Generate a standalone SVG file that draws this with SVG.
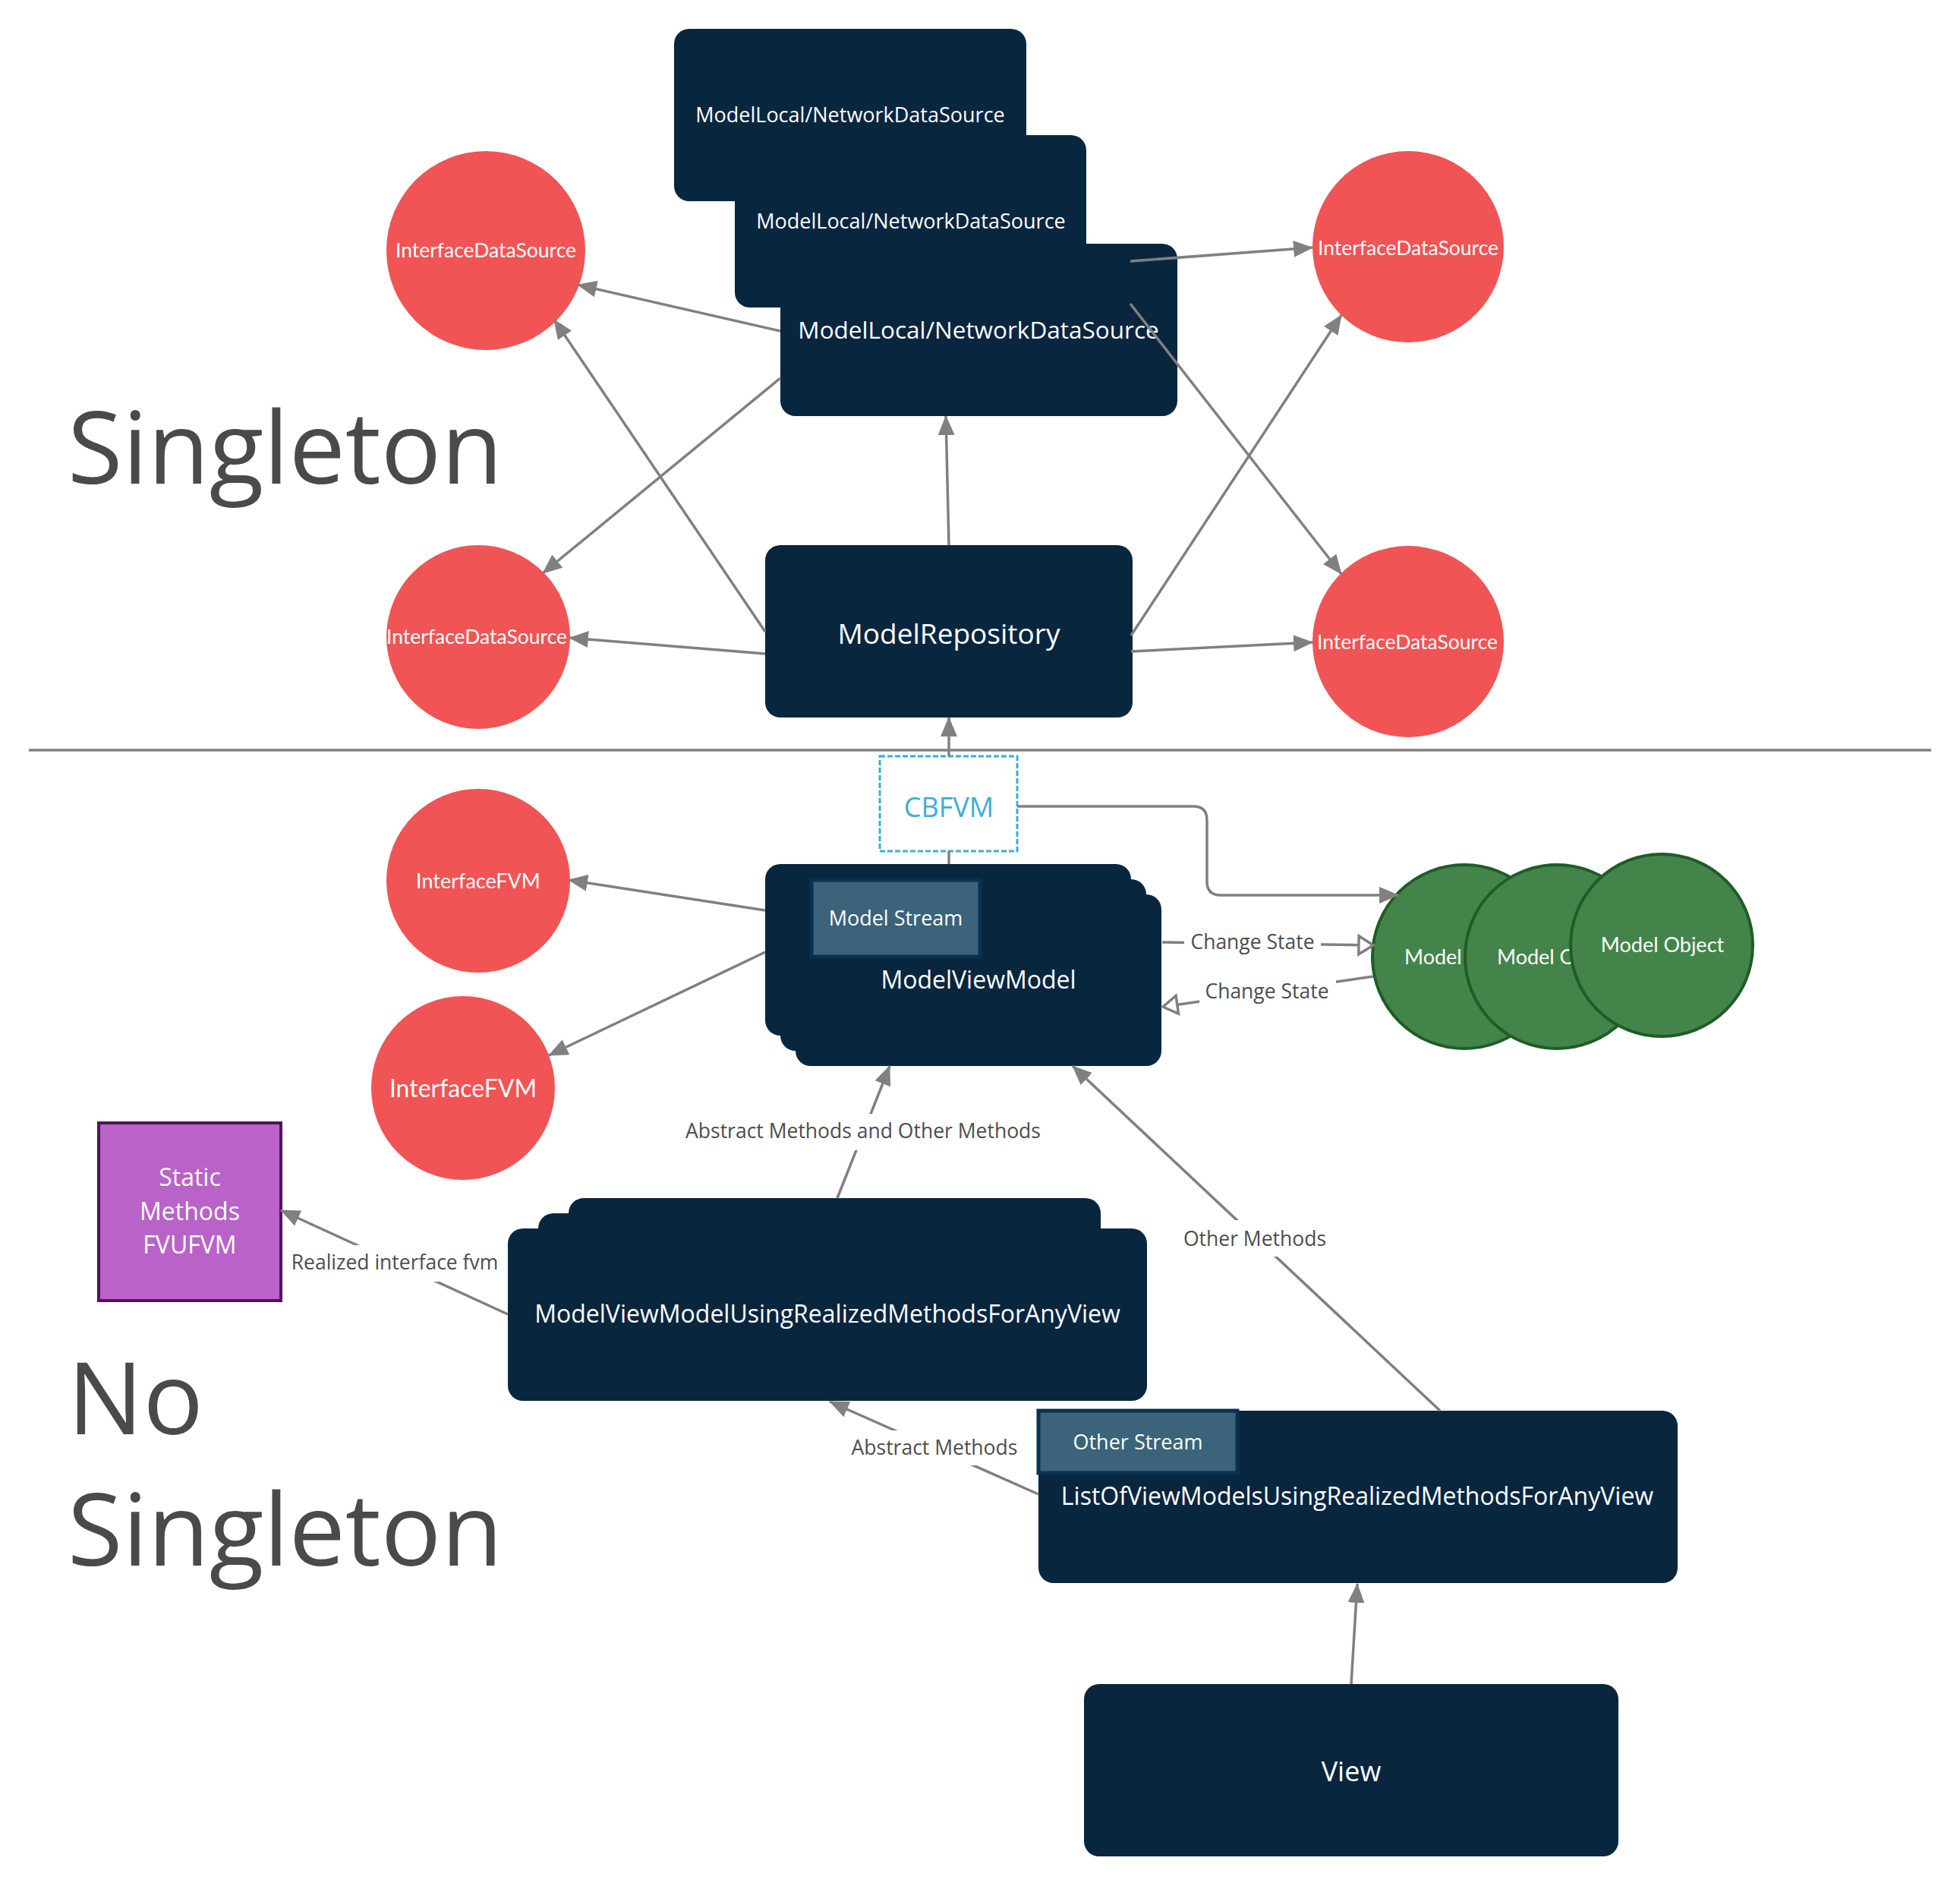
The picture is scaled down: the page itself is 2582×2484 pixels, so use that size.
<svg xmlns="http://www.w3.org/2000/svg" width="2582" height="2484" viewBox="0 0 2582 2484">
<style>
.dark{fill:#09263f}
.nt{font-family:"Open Sans","Noto Sans",sans-serif;fill:#ffffff;text-anchor:middle}
.red{fill:#f05454}
.green{fill:#43844b;stroke:#1f5c27;stroke-width:4}
.ct{font-family:Lato,"Open Sans",sans-serif;fill:#ffffff;text-anchor:middle}
.stream{fill:#3b6379;stroke:#0b3150;stroke-width:5}
.big{font-family:"Open Sans","Noto Sans",sans-serif;fill:#4a4a4a;font-size:132px}
.ln{fill:none;stroke:#808080;stroke-width:3.5}
.lbl{font-family:"Open Sans","Noto Sans",sans-serif;fill:#4d4d4d;font-size:26.5px;text-anchor:middle}
.lbg{fill:#ffffff}
</style>
<defs>
<marker id="arr" viewBox="0 0 26 22" refX="25" refY="11" markerWidth="26" markerHeight="22" orient="auto" markerUnits="userSpaceOnUse">
<path d="M0,0 L26,11 L0,22 Z" fill="#808080"/>
</marker>
<marker id="open" viewBox="-3 -3 25 30" refX="19" refY="12" markerWidth="25" markerHeight="30" orient="auto" markerUnits="userSpaceOnUse">
<path d="M0,0 L19,12 L0,24 Z" fill="#ffffff" stroke="#808080" stroke-width="3.5"/>
</marker>
</defs>
<rect width="2582" height="2484" fill="#ffffff"/>

<text class="big" x="89" y="637">Singleton</text>
<text class="big" x="89" y="1889">No</text>
<text class="big" x="89" y="2062">Singleton</text>
<line x1="38" y1="988" x2="2544" y2="988" stroke="#808080" stroke-width="3.5"/>

<g id="datasource-a">
<rect class="dark" x="888" y="38" width="464" height="227" rx="20"/>
<text class="nt" x="1120" y="161" font-size="27">ModelLocal/NetworkDataSource</text>
</g>
<g id="datasource-b">
<rect class="dark" x="968" y="178" width="463" height="227" rx="20"/>
<text class="nt" x="1200" y="301" font-size="27">ModelLocal/NetworkDataSource</text>
</g>
<g id="datasource-c">
<rect class="dark" x="1028" y="321" width="523" height="227" rx="20"/>
<text class="nt" x="1289" y="446" font-size="31.5">ModelLocal/NetworkDataSource</text>
</g>
<g id="ids-top-left">
<circle class="red" cx="640" cy="330" r="131"/>
<text class="ct" x="640" y="339" font-size="26.5">InterfaceDataSource</text>
</g>
<g id="ids-bottom-left">
<circle class="red" cx="630" cy="839" r="121"/>
<text class="ct" x="628" y="848" font-size="26.5">InterfaceDataSource</text>
</g>
<g id="ids-top-right">
<circle class="red" cx="1855" cy="325" r="126"/>
<text class="ct" x="1855" y="336" font-size="26.5">InterfaceDataSource</text>
</g>
<g id="ids-bottom-right">
<circle class="red" cx="1855" cy="845" r="126"/>
<text class="ct" x="1854" y="855" font-size="26.5">InterfaceDataSource</text>
</g>
<g id="model-repository">
<rect class="dark" x="1008" y="718" width="484" height="227" rx="20"/>
<text class="nt" x="1250" y="848" font-size="37">ModelRepository</text>
</g>
<g id="cbfvm">
<rect x="1159" y="996" width="181" height="125" fill="#ffffff" stroke="#3aaed8" stroke-width="3" stroke-dasharray="7 3"/>
<text x="1250" y="1076" font-family="Open Sans, Noto Sans, sans-serif" font-size="36" fill="#3aaed8" text-anchor="middle">CBFVM</text>
</g>
<g id="interface-fvm-top">
<circle class="red" cx="630" cy="1160" r="121"/>
<text class="ct" x="630" y="1170" font-size="27">InterfaceFVM</text>
</g>
<g id="interface-fvm-bottom">
<circle class="red" cx="610" cy="1433" r="121"/>
<text class="ct" x="610" y="1445" font-size="32">InterfaceFVM</text>
</g>
<g id="model-view-model">
<rect class="dark" x="1008" y="1138" width="482" height="226" rx="20"/>
<rect class="dark" x="1028" y="1158" width="482" height="226" rx="20"/>
<rect class="dark" x="1048" y="1178" width="482" height="226" rx="20"/>
<rect class="stream" x="1069" y="1159" width="222" height="101"/>
<text class="nt" x="1180" y="1219" font-size="27">Model Stream</text>
<text class="nt" x="1289" y="1302" font-size="32">ModelViewModel</text>
</g>
<g id="model-object-1">
<circle class="green" cx="1929" cy="1260" r="121"/>
<text class="ct" x="1850" y="1270" font-size="27" style="text-anchor:start">Model</text>
</g>
<g id="model-object-2">
<circle class="green" cx="2051" cy="1260" r="121"/>
<text class="ct" x="1972" y="1270" font-size="27" style="text-anchor:start">Model O</text>
</g>
<g id="model-object-3">
<circle class="green" cx="2189" cy="1245" r="120"/>
<text class="ct" x="2190" y="1254" font-size="27">Model Object</text>
</g>
<g id="static-methods">
<rect x="130" y="1479" width="240" height="234" fill="#b962c8" stroke="#4f1657" stroke-width="4"/>
<text class="nt" x="250" y="1562" font-size="32">Static</text>
<text class="nt" x="250" y="1607" font-size="32">Methods</text>
<text class="nt" x="250" y="1651" font-size="32">FVUFVM</text>
</g>
<g id="mvm-realized">
<rect class="dark" x="749" y="1578" width="701" height="220" rx="20"/>
<rect class="dark" x="709" y="1598" width="701" height="220" rx="20"/>
<rect class="dark" x="669" y="1618" width="842" height="227" rx="20"/>
<text class="nt" x="1090" y="1742" font-size="32">ModelViewModelUsingRealizedMethodsForAnyView</text>
</g>
<g id="list-of-view-models">
<rect class="dark" x="1368" y="1858" width="842" height="227" rx="20"/>
<rect class="stream" x="1368" y="1858" width="262" height="82"/>
<text class="nt" x="1499" y="1909" font-size="27">Other Stream</text>
<text class="nt" x="1788" y="1982" font-size="32">ListOfViewModelsUsingRealizedMethodsForAnyView</text>
</g>
<g id="view">
<rect class="dark" x="1428" y="2218" width="704" height="227" rx="20"/>
<text class="nt" x="1780" y="2346" font-size="36">View</text>
</g>

<g id="connectors">
<path class="ln" d="M1028,436 L761,375" marker-end="url(#arr)"/>
<path class="ln" d="M1028,498 L715,755" marker-end="url(#arr)"/>
<path class="ln" d="M1008,832 L730,421" marker-end="url(#arr)"/>
<path class="ln" d="M1008,861 L750,840" marker-end="url(#arr)"/>
<path class="ln" d="M1250,718 L1246,548" marker-end="url(#arr)"/>
<path class="ln" d="M1250,996 L1250,945" marker-end="url(#arr)"/>
<path class="ln" d="M1489,344 L1729,326" marker-end="url(#arr)"/>
<path class="ln" d="M1489,400 L1767,756" marker-end="url(#arr)"/>
<path class="ln" d="M1490,837 L1767,415" marker-end="url(#arr)"/>
<path class="ln" d="M1490,858 L1729,846" marker-end="url(#arr)"/>
<path class="ln" d="M1340,1062 L1572,1062 Q1590,1062 1590,1080 L1590,1161 Q1590,1179 1608,1179 L1842,1179" marker-end="url(#arr)"/>
<path class="ln" d="M1250,1121 L1250,1138"/>
<path class="ln" d="M1008,1199 L749,1159" marker-end="url(#arr)"/>
<path class="ln" d="M1008,1254 L723,1390" marker-end="url(#arr)"/>
<path class="ln" d="M1531,1241 L1809,1245" marker-end="url(#open)"/>
<path class="ln" d="M1809,1286 L1532,1326" marker-end="url(#open)"/>
<path class="ln" d="M1103,1578 L1172,1404" marker-end="url(#arr)"/>
<path class="ln" d="M1897,1858 L1413,1404" marker-end="url(#arr)"/>
<path class="ln" d="M669,1731 L370,1594" marker-end="url(#arr)"/>
<path class="ln" d="M1368,1968 L1093,1846" marker-end="url(#arr)"/>
<path class="ln" d="M1780,2218 L1788,2086" marker-end="url(#arr)"/>
<rect class="lbg" x="1560" y="1222" width="180" height="38"/>
<text class="lbl" x="1650" y="1250">Change State</text>
<rect class="lbg" x="1580" y="1287" width="180" height="38"/>
<text class="lbl" x="1669" y="1315">Change State</text>
<rect class="lbg" x="893" y="1467" width="488" height="48"/>
<text class="lbl" x="1137" y="1499">Abstract Methods and Other Methods</text>
<rect class="lbg" x="1553" y="1607" width="200" height="48"/>
<text class="lbl" x="1653" y="1641">Other Methods</text>
<rect class="lbg" x="375" y="1640" width="290" height="48"/>
<text class="lbl" x="520" y="1672">Realized interface fvm</text>
<rect class="lbg" x="1113" y="1884" width="236" height="46"/>
<text class="lbl" x="1231" y="1916">Abstract Methods</text>
</g>
</svg>
